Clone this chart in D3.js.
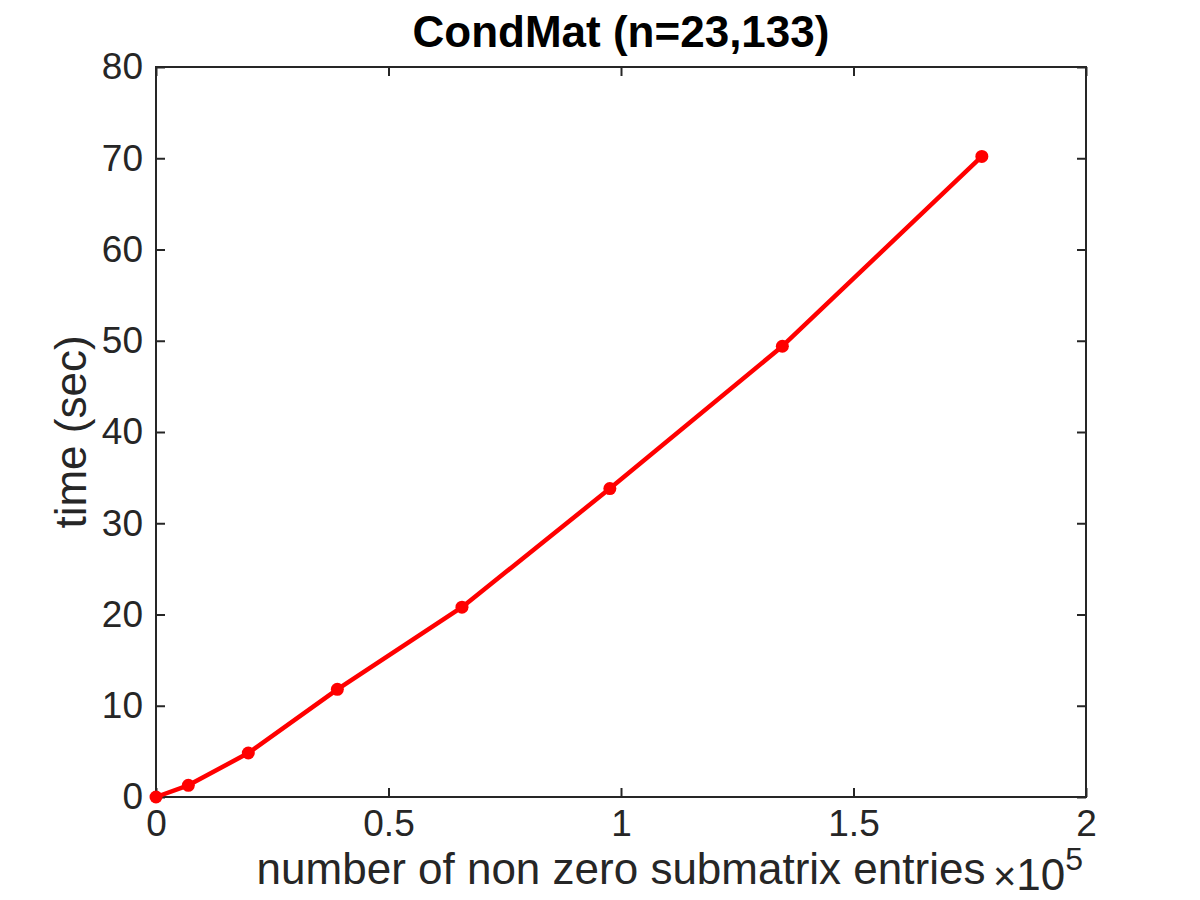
<!DOCTYPE html>
<html>
<head>
<meta charset="utf-8">
<script src="https://cdn.jsdelivr.net/npm/d3@7"></script>
<style>
  body { margin: 0; background: #fff; }
  text { font-family: "Liberation Sans", Arial, Helvetica, sans-serif; fill: #262626; }
</style>
</head>
<body>
<div id="wrapper"></div>
<script>
// data (x in entries, y in seconds)
const entries = [0, 6950, 19850, 39000, 65800, 97600, 134700, 177600]
const seconds = [0, 1.28, 4.82, 11.8, 20.8, 33.8, 49.4, 70.2]
const xTicks = [0, 0.5e5, 1e5, 1.5e5, 2e5]
const yTicks = [0, 10, 20, 30, 40, 50, 60, 70, 80]
const titleText = "CondMat (n=23,133)"
const xLabelText = "number of non zero submatrix entries"
const yLabelText = "time (sec)"

const dataset = entries.map((x, i) => ({ x: x, y: seconds[i] }))

function drawChart() {
  const dimensions = {
    width: 1200,
    height: 900,
    margin: { top: 67, right: 114, bottom: 103, left: 156 },
  }
  dimensions.boundedWidth = dimensions.width - dimensions.margin.left - dimensions.margin.right
  dimensions.boundedHeight = dimensions.height - dimensions.margin.top - dimensions.margin.bottom

  const wrapper = d3.select("#wrapper")
    .append("svg")
      .attr("width", dimensions.width)
      .attr("height", dimensions.height)

  const bounds = wrapper.append("g")
    .attr("transform", `translate(${dimensions.margin.left}, ${dimensions.margin.top})`)

  const xScale = d3.scaleLinear()
    .domain([0, 2e5])
    .range([0, dimensions.boundedWidth])

  const yScale = d3.scaleLinear()
    .domain([0, 80])
    .range([dimensions.boundedHeight, 0])

  const axisColor = "#262626"
  const tickLen = 9
  const tickFont = 37
  const labelFont = 44

  // box
  bounds.append("rect")
      .attr("width", dimensions.boundedWidth)
      .attr("height", dimensions.boundedHeight)
      .attr("fill", "none")
      .attr("stroke", axisColor)
      .attr("stroke-width", 2)

  // axes on all four sides, ticks pointing inwards
  const fmtX = d => d3.format("")(d / 1e5)
  bounds.append("g")
      .attr("transform", `translate(0, ${dimensions.boundedHeight})`)
      .call(d3.axisBottom(xScale).tickValues(xTicks).tickSizeInner(-tickLen).tickSizeOuter(0).tickPadding(tickLen + 4).tickFormat(fmtX))
  bounds.append("g")
      .call(d3.axisTop(xScale).tickValues(xTicks).tickSizeInner(-tickLen).tickSizeOuter(0).tickFormat(""))

  bounds.append("g")
      .call(d3.axisLeft(yScale).tickValues(yTicks).tickSizeInner(-tickLen).tickSizeOuter(0).tickPadding(tickLen + 4))
  bounds.append("g")
      .attr("transform", `translate(${dimensions.boundedWidth}, 0)`)
      .call(d3.axisRight(yScale).tickValues(yTicks).tickSizeInner(-tickLen).tickSizeOuter(0).tickFormat(""))

  bounds.selectAll(".domain").remove()
  bounds.selectAll(".tick line").attr("stroke", axisColor).attr("stroke-width", 2)
  bounds.selectAll(".tick text")
      .style("font-size", `${tickFont}px`)
      .style("font-family", "'Liberation Sans', Arial, sans-serif")
      .attr("fill", axisColor)

  // red line and markers
  const lineGenerator = d3.line()
    .x(d => xScale(d.x))
    .y(d => yScale(d.y))

  bounds.append("path")
      .datum(dataset)
      .attr("d", lineGenerator)
      .attr("fill", "none")
      .attr("stroke", "#ff0000")
      .attr("stroke-width", 4.5)
      .attr("stroke-linejoin", "round")

  bounds.selectAll(".dot")
    .data(dataset)
    .join("circle")
      .attr("class", "dot")
      .attr("cx", d => xScale(d.x))
      .attr("cy", d => yScale(d.y))
      .attr("r", 6.5)
      .attr("fill", "#ff0000")

  // title
  wrapper.append("text")
      .attr("x", dimensions.margin.left + dimensions.boundedWidth / 2)
      .attr("y", 47)
      .attr("text-anchor", "middle")
      .style("font-size", "44px")
      .style("font-weight", "bold")
      .style("fill", "#000")
      .text(titleText)

  // x label
  wrapper.append("text")
      .attr("x", dimensions.margin.left + dimensions.boundedWidth / 2)
      .attr("y", 884)
      .attr("text-anchor", "middle")
      .style("font-size", `${labelFont}px`)
      .text(xLabelText)

  // exponent note
  const expo = wrapper.append("text")
      .attr("x", 993)
      .attr("y", 890)
      .style("font-size", `${labelFont}px`)
  expo.append("tspan").text("\u00d7").style("font-size", "40px").style("font-weight", "300")
  expo.append("tspan").text("10")
  expo.append("tspan").text("5").attr("dy", -20).style("font-size", "32px")

  // y label
  wrapper.append("text")
      .attr("transform", `translate(86, ${dimensions.margin.top + dimensions.boundedHeight / 2}) rotate(-90)`)
      .attr("text-anchor", "middle")
      .style("font-size", `${labelFont}px`)
      .text(yLabelText)
}
drawChart()
</script>
</body>
</html>
